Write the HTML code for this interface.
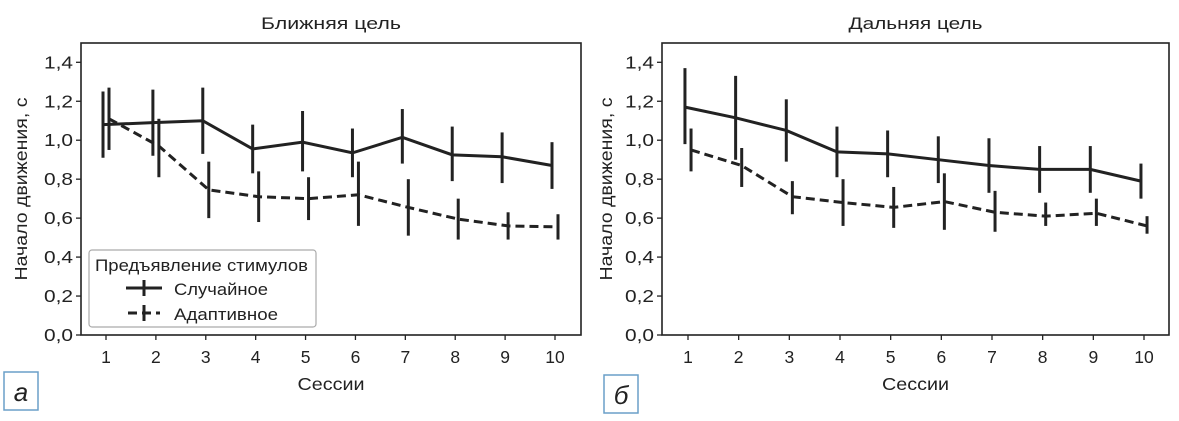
<!DOCTYPE html>
<html><head><meta charset="utf-8"><style>
body{margin:0;background:#fff;}
svg{font-family:"Liberation Sans",sans-serif;}
</style></head><body>
<svg id="c" width="1179" height="416"></svg>
<script>
const sessions=[1,2,3,4,5,6,7,8,9,10];
const yTicks=[0,0.2,0.4,0.6,0.8,1.0,1.2,1.4];
const nearRandom=[1.08,1.09,1.10,0.955,0.99,0.935,1.015,0.925,0.915,0.87];
const nearRandomLo=[0.91,0.92,0.93,0.83,0.84,0.81,0.88,0.79,0.78,0.75];
const nearRandomHi=[1.25,1.26,1.27,1.08,1.15,1.06,1.16,1.07,1.04,0.99];
const nearAdapt=[1.11,0.97,0.745,0.71,0.70,0.72,0.655,0.595,0.56,0.555];
const nearAdaptLo=[0.95,0.81,0.60,0.58,0.59,0.56,0.51,0.49,0.49,0.49];
const nearAdaptHi=[1.27,1.11,0.89,0.84,0.81,0.89,0.80,0.70,0.63,0.62];
const farRandom=[1.17,1.115,1.05,0.94,0.93,0.90,0.87,0.85,0.85,0.79];
const farRandomLo=[0.98,0.90,0.89,0.81,0.81,0.78,0.73,0.73,0.73,0.70];
const farRandomHi=[1.37,1.33,1.21,1.07,1.05,1.02,1.01,0.97,0.97,0.88];
const farAdapt=[0.95,0.87,0.71,0.68,0.655,0.685,0.63,0.61,0.625,0.56];
const farAdaptLo=[0.84,0.76,0.62,0.56,0.55,0.54,0.53,0.56,0.56,0.52];
const farAdaptHi=[1.06,0.96,0.79,0.80,0.76,0.83,0.74,0.68,0.70,0.61];

const NS='http://www.w3.org/2000/svg';
const svg=document.getElementById('c');
function mk(t,a,p){const e=document.createElementNS(NS,t);for(const k in a)e.setAttribute(k,a[k]);(p||svg).appendChild(e);return e;}

function panel(cfg){
  const g=mk('g',{});
  
  
  const {L,R,T,B,x1,x10}=cfg;
  const Y0=335,Y14=62.3;
  const ys=v=>Y0+(Y14-Y0)*v/1.4;
  const xs=s=>x1+(x10-x1)*(s-1)/9;
  const frame=mk('rect',{x:L,y:T,width:R-L,height:B-T,fill:'none',stroke:'#222','stroke-width':1.6},g);
  
  
  yTicks.forEach(v=>{
    mk('line',{x1:L-5,x2:L,y1:ys(v),y2:ys(v),stroke:'#222','stroke-width':1.3},g);
    const t=mk('text',{x:L-8,y:ys(v)+6,'text-anchor':'end','font-size':17.5,fill:'#222',textLength:29,lengthAdjust:'spacingAndGlyphs'},g);
    t.textContent=v.toFixed(1).replace('.',',');
    
    
  });
  sessions.forEach(s=>{
    mk('line',{x1:xs(s),x2:xs(s),y1:B,y2:B+5,stroke:'#222','stroke-width':1.3},g);
    const t=mk('text',{x:xs(s),y:B+28,'text-anchor':'middle','font-size':17.5,fill:'#222'},g);
    t.textContent=s;
    
    
  });
  const title=mk('text',{x:(L+R)/2,y:29,'text-anchor':'middle','font-size':17,fill:'#222',textLength:cfg.tl,lengthAdjust:'spacingAndGlyphs'},g);
  title.textContent=cfg.title;
  
  
  const xl=mk('text',{x:(L+R)/2,y:390,'text-anchor':'middle','font-size':17.5,fill:'#222',textLength:67,lengthAdjust:'spacingAndGlyphs'},g);
  xl.textContent='Сессии';
  
  
  const yx=cfg.ylx,yy=(T+B)/2;
  const yl=mk('text',{x:yx,y:yy,'text-anchor':'middle','font-size':17.5,fill:'#222',textLength:183,lengthAdjust:'spacingAndGlyphs',transform:`rotate(-90 ${yx} ${yy})`},g);
  yl.textContent='Начало движения, с';
  
  
  function series(vals,lo,hi,off,dash,name){
    const sg=mk('g',{},g);
    
    
    const pts=sessions.map((s,i)=>xs(s+off)+','+ys(vals[i])).join(' ');
    const pl=mk('polyline',{points:pts,fill:'none',stroke:'#222','stroke-width':3,'stroke-dasharray':dash},sg);
    
    
    sessions.forEach((s,i)=>{
      const e=mk('line',{x1:xs(s+off),x2:xs(s+off),y1:ys(lo[i]),y2:ys(hi[i]),stroke:'#222','stroke-width':3},sg);
      
      
    });
  }
  series(cfg.r,cfg.rl,cfg.rh,-0.06,'none','series-random');
  series(cfg.a,cfg.al,cfg.ah,0.06,'9,5','series-adaptive');
}
panel({name:'panel-near',L:81,R:581,T:43,B:335,x1:106,x10:555,ylx:27,title:'Ближняя цель',tl:140,
  r:nearRandom,rl:nearRandomLo,rh:nearRandomHi,a:nearAdapt,al:nearAdaptLo,ah:nearAdaptHi});
panel({name:'panel-far',L:662,R:1169,T:43,B:335,x1:688,x10:1144,ylx:612,title:'Дальняя цель',tl:134,
  r:farRandom,rl:farRandomLo,rh:farRandomHi,a:farAdapt,al:farAdaptLo,ah:farAdaptHi});

// legend
const lg=mk('g',{});


mk('rect',{x:89,y:250,width:227,height:77,rx:3,fill:'#fff',stroke:'#aaa','stroke-width':1.2},lg);
const lt=mk('text',{x:95,y:271,'font-size':17,fill:'#222',textLength:213,lengthAdjust:'spacingAndGlyphs'},lg);
lt.textContent='Предъявление стимулов';


const e1=mk('g',{},lg);


mk('line',{x1:126,x2:162,y1:288,y2:288,stroke:'#222','stroke-width':3},e1);
mk('line',{x1:144,x2:144,y1:280,y2:296,stroke:'#222','stroke-width':3},e1);
const t1=mk('text',{x:174,y:295,'font-size':17,fill:'#222',textLength:94,lengthAdjust:'spacingAndGlyphs'},e1);t1.textContent='Случайное';
const e2=mk('g',{},lg);


mk('line',{x1:128,x2:160,y1:313,y2:313,stroke:'#222','stroke-width':3,'stroke-dasharray':'9,5'},e2);
mk('line',{x1:144,x2:144,y1:305,y2:321,stroke:'#222','stroke-width':3},e2);
const t2=mk('text',{x:174,y:320,'font-size':17,fill:'#222',textLength:104,lengthAdjust:'spacingAndGlyphs'},e2);t2.textContent='Адаптивное';

// panel labels
[[4,372,'а','panel-label-a'],[604,375,'б','panel-label-b']].forEach(([x,y,s,n])=>{
  const g=mk('g',{});
  
  
  mk('rect',{x:x,y:y,width:34,height:38,fill:'#fff',stroke:'#6a9fc8','stroke-width':1.5},g);
  const t=mk('text',{x:x+17,y:y+29,'text-anchor':'middle','font-size':26,'font-style':'italic',fill:'#222'},g);
  t.textContent=s;
});
</script>
</body></html>
